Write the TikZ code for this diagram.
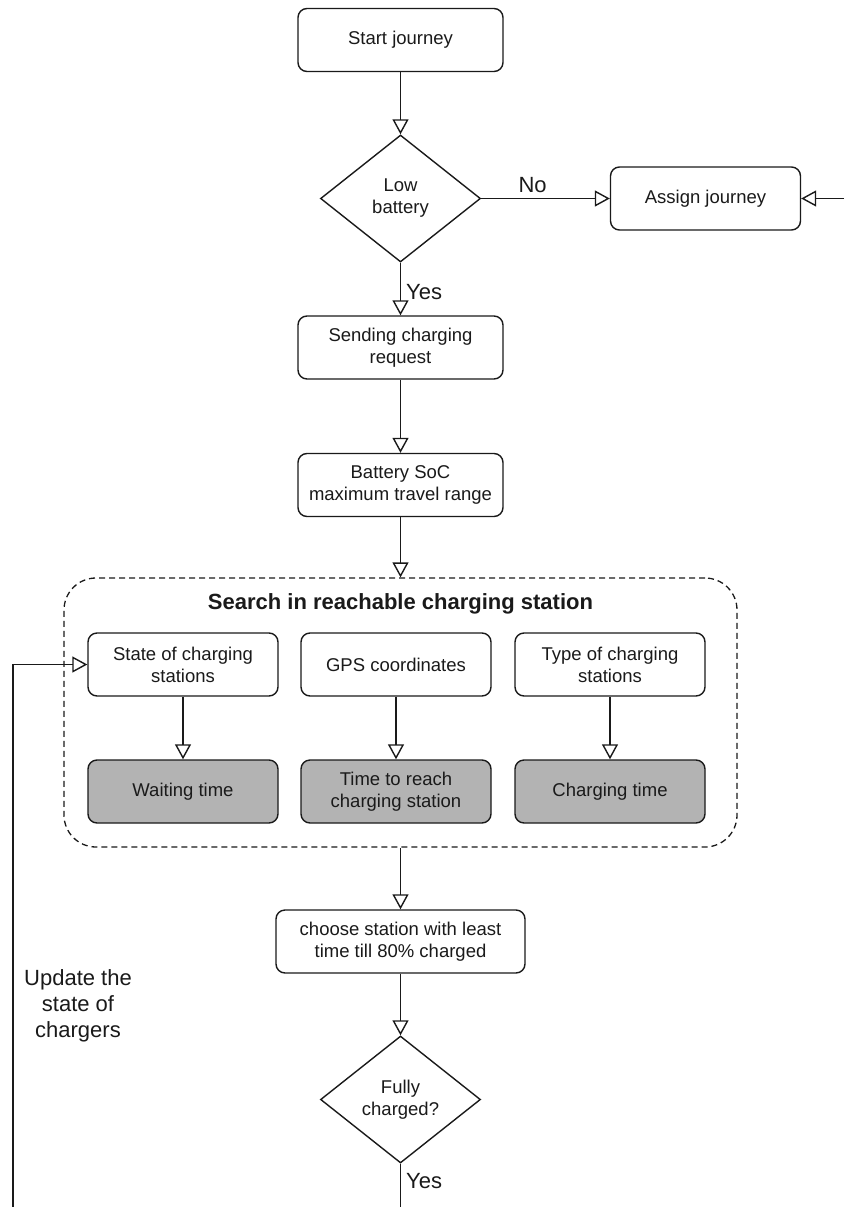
\documentclass[tikz,border=0pt]{standalone}
\usepackage{fontspec}
\setmainfont{Liberation Sans}
\usetikzlibrary{arrows.meta,shapes.geometric}
\definecolor{boxgray}{HTML}{B3B3B3}
\definecolor{ink}{HTML}{1A1A1A}
\tikzset{
  every node/.style={font=\fontsize{18.5}{22}\selectfont, align=center, inner sep=0pt, text=ink},
  procbox/.style={draw=ink, line width=1.4pt, rounded corners=9pt, fill=white,
                  minimum width=205pt, minimum height=63pt},
  innerbox/.style={procbox, minimum width=190pt},
  resultbox/.style={innerbox, fill=boxgray},
  decision/.style={draw=ink, line width=1.4pt, diamond, fill=white,
                   minimum width=160pt, minimum height=127pt},
  group/.style={draw=ink, line width=1.3pt, dash pattern=on 6pt off 4pt,
                rounded corners=32pt, minimum width=673pt, minimum height=269pt},
  lbl/.style={font=\fontsize{22}{26}\selectfont},
  flow/.style={draw=ink, line width=1.4pt, -{Triangle[open, length=15pt, width=16pt, line width=1.4pt]}},
  plain/.style={draw=ink, line width=1.4pt}
}
\begin{document}
\begin{tikzpicture}[x=1pt, y=-1pt]
\useasboundingbox (0,0) rectangle (844,1207);

% main column
\node[procbox] (start) at (400.5,40) {Start journey};
\node[decision] (low) at (400.5,198.5) {Low\\battery};
\node[procbox, minimum width=190pt] (assign) at (705.5,198.5) {Assign journey};
\node[procbox] (send) at (400.5,347.5) {Sending charging\\request};
\node[procbox] (soc) at (400.5,485) {Battery SoC\\maximum travel range};

% search group
\node[group] (search) at (400.5,712.5) {};
\node[font=\bfseries\fontsize{22}{26}\selectfont] (title) at (400.5,604) {Search in reachable charging station};
\node[innerbox] (state) at (183,664.5) {State of charging\\stations};
\node[innerbox] (gps) at (396,664.5) {GPS coordinates};
\node[innerbox] (type) at (610,664.5) {Type of charging\\stations};
\node[resultbox] (wait) at (183,791.5) {Waiting time};
\node[resultbox] (reach) at (396,791.5) {Time to reach\\charging station};
\node[resultbox] (ctime) at (610,791.5) {Charging time};

% selection and check
\node[procbox, minimum width=249pt] (choose) at (400.5,941.5) {choose station with least\\time till 80\% charged};
\node[decision] (full) at (400.5,1099.5) {Fully\\charged?};

% free ends of connectors
\coordinate (rin) at (844,198.5);
\coordinate (fbstart) at (13,1207);
\coordinate (yesend) at (400.5,1207);

% connectors
\draw[flow] (start) -- (low);
\draw[flow] (low) -- node[lbl, pos=0.4, above=5pt] (nolbl) {No} (assign);
\draw[flow] (rin) -- (assign);
\draw[flow] (low) -- node[lbl, right=5pt, pos=0.55] (yes1) {Yes} (send);
\draw[flow] (send) -- (soc);
\draw[flow] (soc) -- (search.north);
\draw[flow] (state) -- (wait);
\draw[flow] (gps) -- (reach);
\draw[flow] (type) -- (ctime);
\draw[flow] (search.south) -- (choose);
\draw[flow] (choose) -- (full);
\draw[plain] (full) -- node[lbl, right=5pt, pos=0.4] (yes2) {Yes} (yesend);
\draw[flow] (fbstart) |- (state.west);

\node[lbl] (upd) at (78,1006) {Update the\\state of\\chargers};
\end{tikzpicture}
\end{document}
